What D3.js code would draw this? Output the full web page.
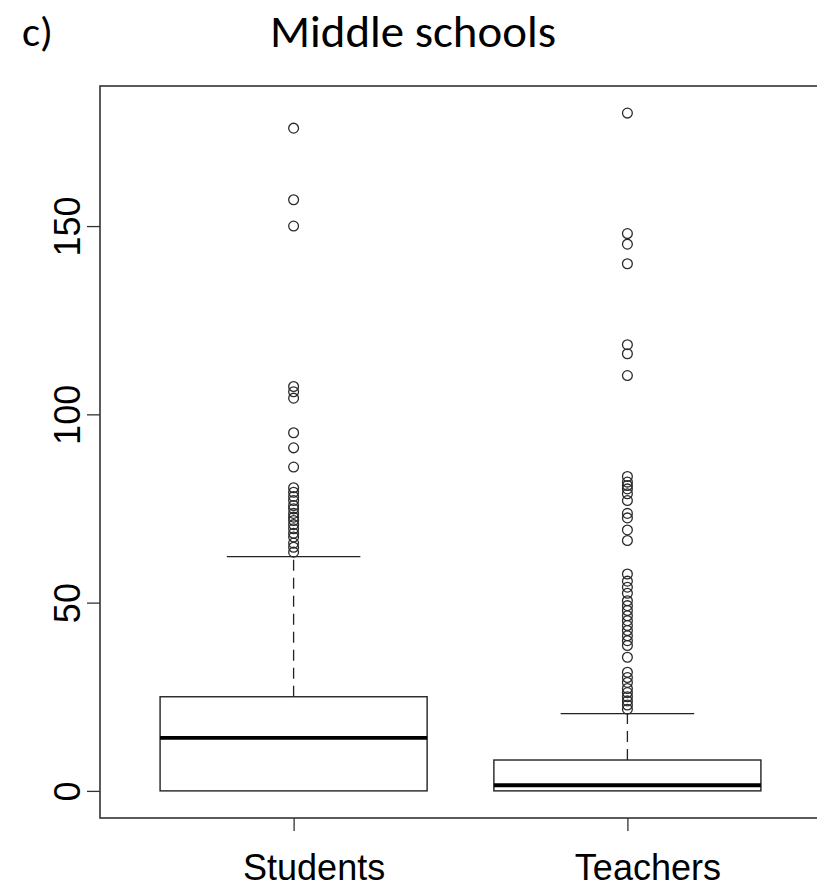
<!DOCTYPE html>
<html>
<head>
<meta charset="utf-8">
<script src="https://cdn.jsdelivr.net/npm/d3@7"></script>
<style>
  html, body { margin: 0; padding: 0; background: #fff; }
  svg { display: block; }
</style>
</head>
<body>
<svg id="chart" width="817" height="890"></svg>
<script>
// ---- data ----
const categories = ["Students", "Teachers"];
const lowerWhisker = [0, 0];
const q1 = [0, 0];
const medians = [14.1, 1.5];
const q3 = [25, 8.2];
const upperWhisker = [62.2, 20.5];
const studentOutliers = [176, 157, 150, 107.4, 106, 104.3, 95.1, 91.1, 86, 80.5, 79.3, 78.2, 77.1, 75.8,
  74.9, 73.7, 72.7, 71.8, 70.7, 69.6, 68.4, 67.4, 65.8, 64.7, 63.4];
const teacherOutliers = [180, 148, 145.2, 140, 118.5, 116.1, 110.3, 83.5, 82, 81.1, 80.2, 78.9, 77.1,
  73.7, 72.5, 69.3, 66.5, 57.6, 55.7, 54.1, 52.5, 50.5, 49.2, 47.9, 46.5, 45.2, 43.9, 42.6, 41.2,
  39.9, 38.6, 35.5, 31.5, 30.1, 28.8, 27.2, 26.1, 25, 23.9, 22.8, 21.7];
const outliers = [studentOutliers, teacherOutliers];
const yTicks = [0, 50, 100, 150];
const titleText = "Middle schools";
const panelLabel = "c)";

(function () {
const svg = d3.select("#chart");
const pLeft = 100, pRight = 821, pTop = 86, pBottom = 818;

const x = d3.scaleLinear().domain([0.42, 2.58]).range([pLeft, pRight]);
const y = d3.scaleLinear().domain([-7.2, 187.2]).range([pBottom, pTop]);
const boxHalf = 0.4, capHalf = 0.2;
const stroke = "#222";

categories.forEach((c, i) => {
  const pos = i + 1;
  const g = svg.append("g");
  g.append("line")
    .attr("x1", x(pos)).attr("x2", x(pos))
    .attr("y1", y(q3[i])).attr("y2", y(upperWhisker[i]))
    .attr("stroke", stroke).attr("stroke-width", 1.3)
    .attr("stroke-dasharray", "11,7");
  if (lowerWhisker[i] < q1[i]) {
    g.append("line")
      .attr("x1", x(pos)).attr("x2", x(pos))
      .attr("y1", y(q1[i])).attr("y2", y(lowerWhisker[i]))
      .attr("stroke", stroke).attr("stroke-width", 1.3)
      .attr("stroke-dasharray", "11,7");
  }
  g.append("line")
    .attr("x1", x(pos - capHalf)).attr("x2", x(pos + capHalf))
    .attr("y1", y(upperWhisker[i])).attr("y2", y(upperWhisker[i]))
    .attr("stroke", stroke).attr("stroke-width", 1.3);
  g.append("rect")
    .attr("x", x(pos - boxHalf)).attr("width", x(pos + boxHalf) - x(pos - boxHalf))
    .attr("y", y(q3[i])).attr("height", y(q1[i]) - y(q3[i]))
    .attr("fill", "none").attr("stroke", stroke).attr("stroke-width", 1.4);
  g.append("line")
    .attr("x1", x(pos - boxHalf)).attr("x2", x(pos + boxHalf))
    .attr("y1", y(medians[i])).attr("y2", y(medians[i]))
    .attr("stroke", "#000").attr("stroke-width", 3.8);
  g.selectAll("circle").data(outliers[i]).join("circle")
    .attr("cx", x(pos)).attr("cy", d => y(d)).attr("r", 4.9)
    .attr("fill", "none").attr("stroke", "#2a2a2a").attr("stroke-width", 1.3);
});

svg.append("rect")
  .attr("x", pLeft).attr("y", pTop)
  .attr("width", pRight - pLeft).attr("height", pBottom - pTop)
  .attr("fill", "none").attr("stroke", "#333").attr("stroke-width", 1.6);

const yAxis = svg.append("g")
  .attr("transform", `translate(${pLeft},0)`)
  .call(d3.axisLeft(y).tickValues(yTicks).tickSize(13).tickFormat(d3.format("d")));
yAxis.select(".domain").remove();
yAxis.selectAll(".tick line").attr("stroke", "#333").attr("stroke-width", 1.3);
yAxis.selectAll(".tick text")
  .attr("x", null).attr("dy", null)
  .attr("text-anchor", "middle")
  .attr("transform", "translate(-20,0) rotate(-90)")
  .attr("font-family", "Liberation Sans, Arial, sans-serif")
  .attr("font-size", 36).attr("fill", "#000");

const xAxis = svg.append("g")
  .attr("transform", `translate(0,${pBottom})`)
  .call(d3.axisBottom(x).tickValues([1, 2]).tickSize(13).tickFormat(d => categories[d - 1]));
xAxis.select(".domain").remove();
xAxis.selectAll(".tick line").attr("stroke", "#333").attr("stroke-width", 1.3);
xAxis.selectAll(".tick text")
  .attr("y", 62).attr("dy", null).attr("x", 20)
  .attr("text-anchor", "middle")
  .attr("font-family", "Liberation Sans, Arial, sans-serif")
  .attr("font-size", 36).attr("fill", "#000");

svg.append("text")
  .attr("x", 270).attr("y", 47)
  .attr("font-family", "Carlito, Calibri, Lato, Open Sans, sans-serif")
  .attr("font-size", 46)
  .attr("textLength", 286).attr("lengthAdjust", "spacingAndGlyphs")
  .attr("fill", "#000")
  .text(titleText);
svg.append("text")
  .attr("x", 22).attr("y", 46)
  .attr("font-family", "Carlito, Calibri, Lato, Open Sans, sans-serif")
  .attr("font-size", 42)
  .attr("textLength", 31).attr("lengthAdjust", "spacingAndGlyphs")
  .attr("fill", "#000")
  .text(panelLabel);
})();
</script>
</body>
</html>
